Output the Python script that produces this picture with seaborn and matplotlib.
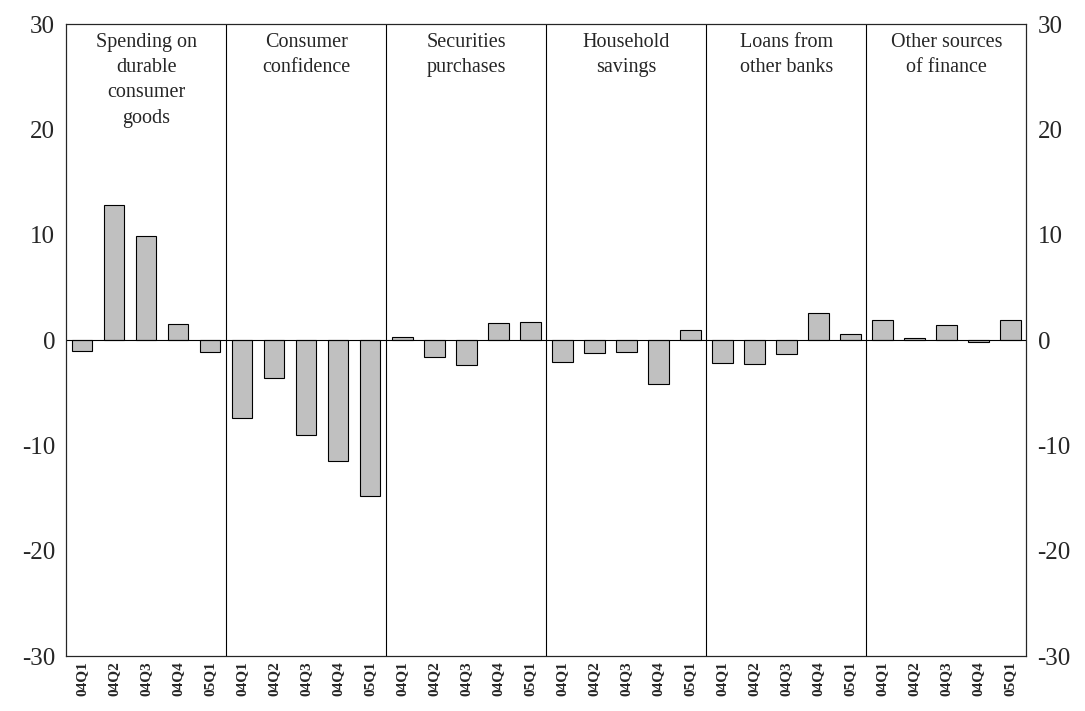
import matplotlib
matplotlib.use("Agg")
import matplotlib.pyplot as plt
import seaborn as sns
import pandas as pd
import numpy as np

groups = ["Spending on\ndurable\nconsumer\ngoods", "Consumer\nconfidence", "Securities\npurchases",
          "Household\nsavings", "Loans from\nother banks", "Other sources\nof finance"]
quarters = ["04Q1", "04Q2", "04Q3", "04Q4", "05Q1"]
spending = [-1.0, 12.8, 9.9, 1.5, -1.1]
confidence = [-7.4, -3.6, -9.0, -11.5, -14.8]
securities = [0.3, -1.6, -2.4, 1.6, 1.7]
savings = [-2.1, -1.2, -1.1, -4.2, 1.0]
loans = [-2.2, -2.3, -1.3, 2.6, 0.6]
other = [1.9, 0.2, 1.4, -0.2, 1.9]

series = [spending, confidence, securities, savings, loans, other]
rows = []
for gi, vals in enumerate(series):
    for q, v in zip(quarters, vals):
        rows.append({"pos": f"{gi}_{q}", "label": q, "value": v})
df = pd.DataFrame(rows)

sns.set_style("white")
plt.rcParams["font.family"] = "serif"
plt.rcParams["font.serif"] = ["Liberation Serif", "DejaVu Serif"]
plt.rcParams["axes.unicode_minus"] = False

fig, ax = plt.subplots(figsize=(10.85, 7.11), dpi=100)
fig.subplots_adjust(left=0.061, right=0.946, top=0.966, bottom=0.077)
sns.barplot(data=df, x="pos", y="value", color="#c0c0c0", edgecolor="black",
            linewidth=0.8, width=0.64, ax=ax)
ax.set_xlim(-0.5, len(df) - 0.5)
ax.set_ylim(-30, 30)
ax.set_yticks(range(-30, 31, 10))
ax.set_xticks(range(len(df)))
ax.set_xticklabels(df["label"], rotation=90, fontweight="bold", fontsize=11)
ax.tick_params(axis="both", length=0)
ax.tick_params(axis="y", labelsize=18, pad=8)
ax.set_xlabel("")
ax.set_ylabel("")
ax.axhline(0, color="black", lw=0.8)
for spine in ax.spines.values():
    spine.set_color("black")
    spine.set_linewidth(0.8)
for k in range(1, len(groups)):
    ax.axvline(k * 5 - 0.5, color="black", lw=0.8)
for k, g in enumerate(groups):
    ax.text(k * 5 + 2, 29.2, g, ha="center", va="top", fontsize=14.5, linespacing=1.45)

ax2 = ax.twinx()
ax2.set_ylim(-30, 30)
ax2.set_yticks(range(-30, 31, 10))
ax2.tick_params(axis="y", labelsize=18, length=0, pad=8)

fig.savefig("out.png")
